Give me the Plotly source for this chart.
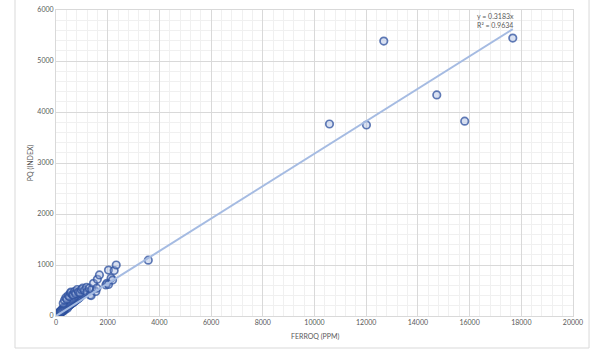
import plotly.graph_objects as go

# ---- data ----
ferroq = [
    # dense cluster near origin
    5, 10, 15, 20, 25, 30, 35, 40, 45, 50, 60, 70, 80, 90, 100, 110, 120, 130, 140, 150,
    160, 170, 180, 190, 200, 215, 230, 245, 260, 275, 290, 305, 320, 335, 350, 365, 380,
    400, 420, 440, 460, 480, 500, 520, 540, 560, 580, 600, 625, 650, 675, 700, 730, 760,
    790, 820, 850, 880, 910, 950, 120, 180, 240, 300, 360, 420, 480, 540, 260, 340, 440,
    8, 18, 28, 38, 55, 65, 75, 85, 95, 105, 115, 135, 155, 175, 195, 210, 225, 250, 270,
    285, 310, 330, 355, 375, 395, 415, 435, 455, 475, 495, 515, 545, 575, 610, 640, 690,
    740, 800, 870, 1000, 1060, 1120,
    12, 22, 32, 42, 62, 72, 88, 98, 125, 145, 165, 185, 205, 235, 265, 295, 325, 345,
    370, 390, 410, 430, 450, 470, 490, 510, 530, 555, 590, 620, 660, 710, 770, 840,
    # scattered points
    280, 330, 380, 420, 470, 520, 560, 580, 640, 670, 720, 760, 820, 870, 930, 980, 1030,
    1100, 1180, 1200, 1290, 1320, 1360, 1380, 1450, 1540, 1580, 1600, 1680, 1930, 1970,
    2030, 2030, 2130, 2190, 2250, 2330,
    # outliers
    3570, 10580, 12010, 12680, 14730, 15810, 17670,
]
pq = [
    2, 5, 6, 9, 10, 12, 15, 17, 18, 21, 25, 30, 33, 38, 42, 46, 50, 52, 58, 62,
    66, 70, 75, 78, 82, 90, 95, 100, 108, 112, 120, 125, 130, 138, 142, 150, 155,
    165, 170, 180, 188, 195, 205, 212, 220, 228, 235, 245, 255, 262, 272, 285, 295, 305,
    318, 330, 340, 352, 365, 380, 70, 100, 130, 160, 190, 220, 250, 280, 90, 120, 150,
    4, 9, 14, 18, 26, 33, 36, 42, 48, 52, 58, 66, 74, 84, 92, 100, 106, 118, 126,
    134, 145, 158, 168, 180, 190, 200, 208, 218, 226, 236, 246, 260, 272, 290, 300, 322,
    340, 365, 390, 420, 440, 460,
    8, 12, 18, 22, 34, 40, 46, 55, 62, 72, 80, 92, 100, 115, 135, 150, 170, 175,
    195, 205, 215, 230, 240, 250, 262, 270, 285, 300, 315, 330, 350, 375, 400, 430,
    250, 310, 360, 330, 400, 380, 450, 470, 420, 410, 480, 440, 520, 470, 457, 520, 545,
    500, 560, 470, 545, 412, 400, 520, 640, 480, 545, 720, 805, 610, 640,
    620, 900, 740, 705, 890, 1000,
    1095, 3765, 3745, 5390, 4335, 3820, 5450,
]

slope = 0.3183
r2 = 0.9634
trend_x = [0, 17670]
trend_y = [slope * v for v in trend_x]

x_ticks = [0, 2000, 4000, 6000, 8000, 10000, 12000, 14000, 16000, 18000, 20000]
y_ticks = [0, 1000, 2000, 3000, 4000, 5000, 6000]

font_family = "Lato, 'Liberation Sans', sans-serif"
tick_color = "#595959"

fig = go.Figure()
fig.add_trace(go.Scatter(
    x=ferroq, y=pq, mode="markers",
    marker=dict(symbol="circle", size=7.5,
                color="rgba(160,180,222,0.4)",
                line=dict(color="rgba(45,80,158,0.75)", width=1.7)),
    showlegend=False, hoverinfo="skip",
))
fig.add_trace(go.Scatter(
    x=trend_x, y=trend_y, mode="lines",
    line=dict(color="rgba(165,187,226,1)", width=2),
    showlegend=False, hoverinfo="skip",
))

fig.add_annotation(
    xref="x", yref="y", x=16190, y=5800, xanchor="left", yanchor="middle",
    text="y = 0.3183x<br>R² = 0.9634", align="left", showarrow=False,
    font=dict(size=7, color=tick_color, family=font_family),
)
# axis titles
fig.add_annotation(
    xref="paper", yref="paper", x=0.5, y=-0.066, xanchor="center", yanchor="middle",
    text="FERROQ (PPM)", showarrow=False,
    font=dict(size=7, color=tick_color, family=font_family),
)
fig.add_annotation(
    xref="paper", yref="paper", x=-0.05, y=0.5, xanchor="center", yanchor="middle",
    text="PQ (INDEX)", textangle=-90, showarrow=False,
    font=dict(size=7, color=tick_color, family=font_family),
)

axis_common = dict(
    showgrid=True, gridcolor="#D9D9D9", gridwidth=1,
    showline=True, linecolor="#D9D9D9", mirror=True,
    zeroline=False, ticks="", automargin=False,
    tickfont=dict(size=7, color=tick_color, family=font_family),
)

fig.update_xaxes(
    range=[0, 20000], tickvals=x_ticks, ticktext=[str(v) for v in x_ticks],
    minor=dict(dtick=400, showgrid=True, gridcolor="#F0F0F0", gridwidth=1),
    **axis_common,
)
fig.update_yaxes(
    range=[0, 6000], tickvals=y_ticks, ticktext=[str(v) for v in y_ticks],
    minor=dict(dtick=200, showgrid=True, gridcolor="#F0F0F0", gridwidth=1),
    **axis_common,
)

# outer chart-area border (top is cropped off in the reference)
fig.add_shape(type="rect", xref="paper", yref="paper",
              x0=-0.0793, x1=1.031, y0=-0.1046, y1=1.06,
              line=dict(color="#D9D9D9", width=1), layer="below")

fig.update_layout(
    width=608, height=360,
    margin=dict(l=56, r=35, t=10, b=44),
    paper_bgcolor="white", plot_bgcolor="white",
    font=dict(family=font_family, size=7, color=tick_color),
)

fig.write_html("out.html", config={"displayModeBar": False},
               post_script="document.body.style.margin='0';document.body.style.overflow='hidden';")
